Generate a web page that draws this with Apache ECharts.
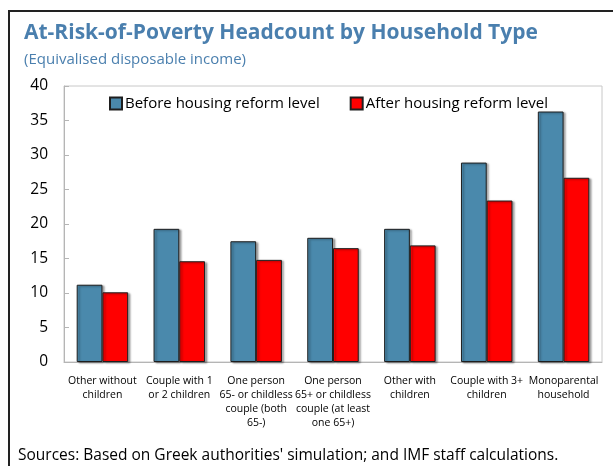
<!DOCTYPE html>
<html>
<head>
<meta charset="utf-8">
<script src="https://cdn.jsdelivr.net/npm/echarts@6/dist/echarts.min.js"></script>
<style>
  html, body { margin: 0; padding: 0; background: #fff; }
  #chart { width: 613px; height: 466px; }
</style>
</head>
<body>
<div id="chart"></div>
<script>
// Household types (x-axis categories)
const categories = [
  'Other without\nchildren',
  'Couple with 1\nor 2 children',
  'One person\n65- or childless\ncouple (both\n65-)',
  'One person\n65+ or childless\ncouple (at least\none 65+)',
  'Other with\nchildren',
  'Couple with 3+\nchildren',
  'Monoparental\nhousehold'
];

// At-risk-of-poverty headcount, percent
const beforeReform = [11.2, 19.3, 17.5, 18.0, 19.3, 28.9, 36.3];
const afterReform  = [10.1, 14.6, 14.8, 16.5, 16.9, 23.4, 26.7];

const seriesNames = ['Before housing reform level', 'After housing reform level'];
const yTicks = [0, 5, 10, 15, 20, 25, 30, 35, 40];

const FONT = '"Open Sans", "Noto Sans", sans-serif';
const TITLE_COLOR = '#4a7fae';

const barShadow = {
  borderColor: '#1e1e1e',
  borderWidth: 1,
  shadowColor: 'rgba(0,0,0,0.35)',
  shadowBlur: 2,
  shadowOffsetX: 2,
  shadowOffsetY: 1
};

const chart = echarts.init(document.getElementById('chart'), null, { renderer: 'canvas' });

chart.setOption({
  animation: false,
  textStyle: { fontFamily: FONT },
  title: [
    {
      text: 'At-Risk-of-Poverty Headcount by Household Type',
      left: 19, top: 18,
      textStyle: { fontFamily: FONT, fontSize: 21, fontWeight: 'bold', color: TITLE_COLOR }
    },
    {
      text: '(Equivalised disposable income)',
      left: 19, top: 47,
      textStyle: { fontFamily: FONT, fontSize: 15, fontWeight: 'normal', color: TITLE_COLOR }
    },
    {
      text: "Sources: Based on Greek authorities' simulation; and IMF staff calculations.",
      left: 13, top: 443,
      textStyle: { fontFamily: FONT, fontSize: 15.5, fontWeight: 'normal', color: '#000' }
    }
  ],
  graphic: [
    {
      type: 'rect',
      shape: { x: 9, y: 11, width: 640, height: 500 },
      style: { fill: 'none', stroke: '#222', lineWidth: 2 },
      silent: true
    }
  ],
  legend: {
    top: 91,
    left: 104,
    itemGap: 30,
    itemWidth: 12,
    itemHeight: 12,
    icon: 'rect',
    textStyle: { fontFamily: FONT, fontSize: 15, color: '#000', padding: [0, 0, 0, -2] },
    data: seriesNames
  },
  grid: {
    left: 64, right: 11, top: 86, bottom: 104,
    show: true,
    borderColor: '#c8c8c8',
    borderWidth: 1
  },
  xAxis: {
    type: 'category',
    data: categories,
    axisLine: { lineStyle: { color: '#b5b5b5' } },
    axisTick: { inside: true, length: 4, lineStyle: { color: '#b5b5b5' } },
    axisLabel: {
      interval: 0,
      color: '#000',
      fontFamily: FONT,
      fontSize: 10.5,
      lineHeight: 14,
      margin: 12
    }
  },
  yAxis: {
    type: 'value',
    min: 0,
    max: 40,
    interval: 5,
    axisLine: { show: true, lineStyle: { color: '#b5b5b5' } },
    axisTick: { show: true, inside: true, length: 5, lineStyle: { color: '#b5b5b5' } },
    splitLine: { show: false },
    axisLabel: {
      color: '#000',
      fontFamily: FONT,
      fontSize: 15.5,
      margin: 16,
      formatter: v => (yTicks.includes(v) ? String(v) : '')
    }
  },
  series: [
    {
      name: seriesNames[0],
      type: 'bar',
      data: beforeReform,
      barGap: '0%',
      barCategoryGap: '33%',
      itemStyle: Object.assign({ color: '#4a89ac' }, barShadow)
    },
    {
      name: seriesNames[1],
      type: 'bar',
      data: afterReform,
      itemStyle: Object.assign({ color: '#ff0000' }, barShadow)
    }
  ]
});
</script>
</body>
</html>
